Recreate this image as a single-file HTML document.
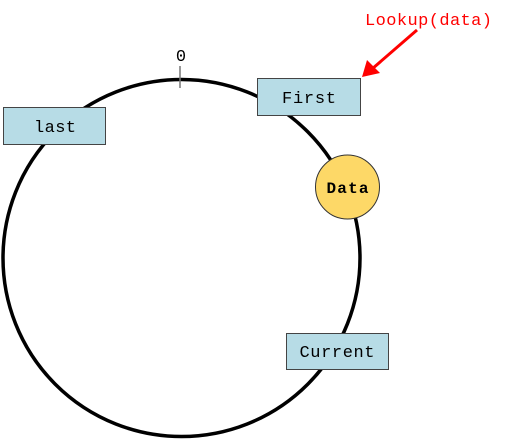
<!DOCTYPE html>
<html><head><meta charset="utf-8"><style>html,body{margin:0;padding:0;background:#fff}svg{display:block}</style></head>
<body>
<svg width="505" height="439" viewBox="0 0 505 439" xmlns="http://www.w3.org/2000/svg" font-family="'Liberation Mono', monospace">
<circle cx="181.5" cy="258" r="178.5" fill="none" stroke="#000" stroke-width="3.5"/>
<line x1="180" y1="66" x2="180" y2="88" stroke="#777" stroke-width="1.5"/>
<text x="181" y="61" font-size="17" text-anchor="middle" fill="#000">0</text>
<rect x="257.5" y="78.5" width="103" height="37" fill="#b7dce6" stroke="#444"/>
<text x="309" y="103" font-size="17" text-anchor="middle" textLength="54">First</text>
<rect x="3.5" y="107.5" width="102" height="37" fill="#b7dce6" stroke="#444"/>
<text x="55" y="132" font-size="17" text-anchor="middle" textLength="42">last</text>
<rect x="286.5" y="333.5" width="102" height="36" fill="#b7dce6" stroke="#444"/>
<text x="337" y="357" font-size="17" text-anchor="middle" textLength="75">Current</text>
<circle cx="347.5" cy="187" r="32" fill="#fdd867" stroke="#333"/>
<text x="347.5" y="193" font-size="16" text-anchor="middle" font-weight="bold" textLength="42">Data</text>
<line x1="417" y1="30" x2="372" y2="69" stroke="#f00" stroke-width="3"/>
<polygon points="362,77 367,60 380,73" fill="#f00"/>
<text x="365" y="25" font-size="17" fill="#f00" textLength="127">Lookup(data)</text>
</svg>
</body></html>
